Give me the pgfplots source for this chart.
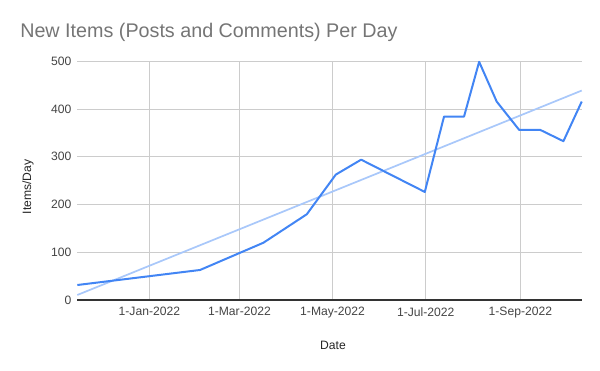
\documentclass[border=0pt]{standalone}
\usepackage{pgfplots}
\pgfplotsset{compat=1.18}
\usepackage{fontspec}
\setmainfont{Liberation Sans}
\definecolor{titlegray}{HTML}{757575}
\definecolor{tickgray}{HTML}{444444}
\definecolor{gridgray}{HTML}{CCCCCC}
\definecolor{gblue}{HTML}{4285F4}
\definecolor{tblue}{HTML}{A9C8FA}
\begin{document}
\begin{tikzpicture}[x=1pt,y=1pt]
\path[use as bounding box] (0,0) rectangle (450,278.25);
\node[anchor=base west, text=titlegray, font=\fontsize{14.8}{17}\selectfont, inner sep=0] at (15,250) {New Items (Posts and Comments) Per Day};
\begin{axis}[
  at={(58pt,53.25pt)}, anchor=south west,
  scale only axis, width=378.3pt, height=179pt,
  xmin=-47.2, xmax=283.2, ymin=0, ymax=500,
  axis x line=bottom, axis y line=left,
  x axis line style={-, color=black!80, line width=0.8pt},
  y axis line style={draw=none},
  xtick={0,59,120,181,243},
  xticklabels={1-Jan-2022,1-Mar-2022,1-May-2022,1-Jul-2022,1-Sep-2022},
  ytick={0,100,200,300,400,500},
  grid=major, grid style={gridgray, line width=0.6pt},
  major tick length=0pt,
  tick label style={font=\fontsize{9.1}{11}\selectfont, text=tickgray},
  /pgf/number format/assume math mode=true,
  yticklabel style={xshift=-1pt},
  xticklabel style={yshift=-2pt},
  clip=false,
]
\addplot[tblue, line width=1.3pt] coordinates {(-47.2,10.5) (283.2,438.8)};
\addplot[gblue, line width=1.5pt, line join=round] coordinates {
(-47.2,31.4) (33.2,62.9) (74.7,120) (103.1,179.6) (122.1,262.7) (138.7,294)
(180.4,226.4) (193,384.3) (206.1,384.3) (216,499) (227.5,415.7) (242.2,356.4)
(256,356.4) (271.2,332.7) (283.2,415.7)};
\end{axis}
\node[font=\fontsize{9.1}{11}\selectfont, text=black!85] at (249.75,19.5) {Date};
\node[font=\fontsize{9.1}{11}\selectfont, text=black!85, rotate=90] at (21,138) {Items/Day};
\end{tikzpicture}
\end{document}
